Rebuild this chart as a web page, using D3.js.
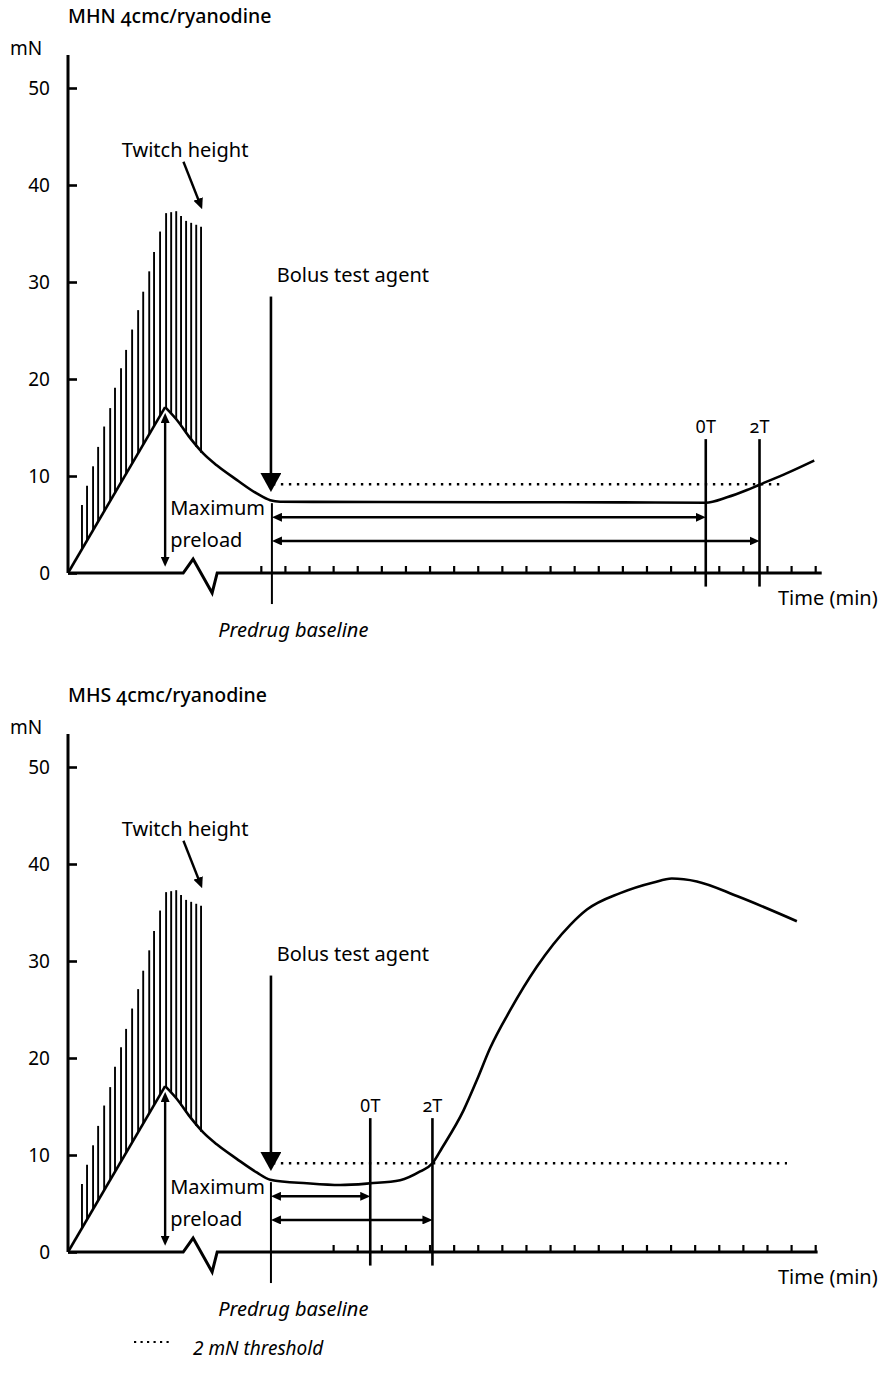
<!DOCTYPE html>
<html><head><meta charset="utf-8">
<script src="https://cdn.jsdelivr.net/npm/d3@7"></script>
<style>
html,body{margin:0;padding:0;background:#fff;}
svg{display:block;}
text{font-family:"Noto Sans","Open Sans",sans-serif;fill:#000;}
.onum{font-variant-numeric:oldstyle-nums;font-feature-settings:"onum" 1;}
</style></head><body>
<svg id="chart" width="884" height="1383"></svg>
<script>
// ---------- data ----------
const yTicks = [0, 10, 20, 30, 40, 50];
const xTicksMHN = [0,1,2,3,4,5,6,7,8,9,10,11,12,13,14,15,16,17,18,19,20,21,22,23];
const xTicksMHS = [3,4,5,6,7,8,9,10,11,12,13,14,15,16,17,18,19,20,21,22,23];

// twitches (time in min, relative to first tick)
const twitchTimes = [-7.42,-7.21,-6.96,-6.75,-6.50,-6.25,-6.05,-5.80,-5.59,-5.34,-5.09,-4.88,-4.63,-4.43,-4.18,-3.93,-3.72,-3.51,-3.31,-3.10,-2.89,-2.68,-2.48];
const twitchTops  = [7,9,11,13,15.1,17,19.1,21.1,23,25.1,27.1,29,31.1,33.1,35.2,37.1,37.2,37.3,36.8,36.3,36.1,35.9,35.7];
const twitchBases = [2.47,3.35,4.41,5.29,6.35,7.40,8.29,9.34,10.23,11.28,12.34,13.22,14.28,15.16,16.22,17.0,16.4,15.8,15.1,14.4,13.7,13.0,12.4];

// preload ramp
const rampTimes  = [-8, -3.97];
const rampValues = [0, 17.1];

// contracture traces (from preload peak onward)
const mhnTimes  = [-3.97,-3.49,-2.93,-2.38,-1.83,-1.0,-0.17,0.39,0.8,5,10,15,18.46,19.34,20.17,20.69,21.83,22.96];
const mhnValues = [17.1,15.8,13.9,12.3,11.1,9.6,8.2,7.5,7.35,7.32,7.3,7.28,7.25,7.8,8.55,9.1,10.3,11.6];
const mhsTimes  = [-3.97,-3.49,-2.93,-2.38,-1.83,-1.0,-0.17,0.39,1.91,3.29,4.54,5.78,6.61,7.12,7.51,8.41,8.96,9.51,10.34,11.45,12.83,13.53,14.91,16.29,17.05,18.09,19.75,22.24];
const mhsValues = [17.1,15.8,13.9,12.3,11.1,9.6,8.2,7.45,7.08,6.9,7.08,7.4,8.3,9.15,10.7,14.6,17.7,21.0,24.9,29.4,33.7,35.3,37.0,38.1,38.5,38.2,36.7,34.1];

// events: [predrug baseline, 0T, 2T]
const eventsMHN = [0.46, 18.46, 20.69];
const eventsMHS = [0.42, 4.54, 7.12];
const bolusTime = 0.42;
const threshold = 9.15;

// axis break (time, mN)
const breakTimes  = [-3.22, -2.81, -2.02, -1.81];
const breakValues = [0, 1.44, -2.06, 0];

// ---------- scales ----------
const svg = d3.select("#chart");
const x = d3.scaleLinear().domain([-8, 23.27]).range([68, 821.7]);
const y = d3.scaleLinear().domain([0, 50]).range([573, 88]);

const defs = svg.append("defs");
function marker(id, len, wid, refX) {
  defs.append("marker").attr("id", id)
    .attr("viewBox", `0 0 ${len} ${wid}`)
    .attr("refX", refX).attr("refY", wid/2)
    .attr("markerWidth", len).attr("markerHeight", wid)
    .attr("markerUnits", "userSpaceOnUse")
    .attr("orient", "auto-start-reverse")
    .append("path").attr("d", `M0,0L${len},${wid/2}L0,${wid}Z`).attr("fill", "#000");
}
marker("ah", 10, 9, 4);
marker("ahT", 11, 10, 4);
marker("big", 19, 21, 4);

const panels = [
  {offset: 0,   name: "MHN", times: mhnTimes, values: mhnValues, events: eventsMHN, ticks: xTicksMHN, end: 23.27, thrEnd: 21.71},
  {offset: 679, name: "MHS", times: mhsTimes, values: mhsValues, events: eventsMHS, ticks: xTicksMHS, end: 23.1,  thrEnd: 21.83}
];

const lineLin = d3.line().x(d => x(d[0])).y(d => y(d[1]));
const lineSmooth = d3.line().x(d => x(d[0])).y(d => y(d[1])).curve(d3.curveMonotoneX);

function arrowLine(g, x1, y1, x2, y2, mk, both, w) {
  const dx = x2 - x1, dy = y2 - y1, L = Math.hypot(dx, dy);
  const s = 6 / L;
  const ln = g.append("line")
    .attr("x1", both ? x1 + dx*s : x1).attr("y1", both ? y1 + dy*s : y1)
    .attr("x2", x2 - dx*s).attr("y2", y2 - dy*s)
    .attr("stroke", "#000").attr("stroke-width", w || 2.4)
    .attr("marker-end", `url(#${mk})`);
  if (both) ln.attr("marker-start", `url(#${mk})`);
}

panels.forEach(p => {
  const g = svg.append("g").attr("transform", `translate(0,${p.offset})`);

  // title
  g.append("text").attr("x", 68).attr("y", 23)
    .attr("font-size", 19.5).attr("font-weight", 500)
    .text(p.name + " ")
    .append("tspan").attr("class", "onum").text("4cmc/ryanodine");

  // mN label
  g.append("text").attr("x", 10).attr("y", 55).attr("font-size", 19).text("mN");

  // y axis line
  g.append("line").attr("x1", x(-8)).attr("x2", x(-8))
    .attr("y1", y(0)).attr("y2", y(53.4))
    .attr("stroke", "#000").attr("stroke-width", 3);
  const yT = g.append("g").attr("transform", `translate(${x(-8)},0)`)
    .call(d3.axisRight(y).tickValues(yTicks).tickSize(9).tickFormat(""));
  yT.select(".domain").remove();
  yT.selectAll("line").attr("stroke-width", 2.6);
  yT.selectAll("text").remove();
  const yL = g.append("g").attr("transform", `translate(${x(-8)},0)`)
    .call(d3.axisLeft(y).tickValues(yTicks).tickSize(0).tickPadding(18));
  yL.select(".domain").remove();
  yL.selectAll("text").attr("font-size", 19)
    .attr("font-family", '"Noto Sans","Open Sans",sans-serif').attr("dy", "0.36em");

  // x axis line with break
  const axisPts = [[-8, 0]].concat(breakTimes.map((t, i) => [t, breakValues[i]])).concat([[p.end, 0]]);
  g.append("path").attr("d", lineLin(axisPts)).attr("fill", "none")
    .attr("stroke", "#000").attr("stroke-width", 3).attr("stroke-linejoin", "miter");
  const xT = g.append("g").attr("transform", `translate(0,${y(0)})`)
    .call(d3.axisTop(x).tickValues(p.ticks).tickSize(7).tickFormat(""));
  xT.select(".domain").remove();
  xT.selectAll("line").attr("stroke-width", 2.2);
  xT.selectAll("text").remove();

  // twitches
  g.append("g").selectAll("line").data(twitchTimes).join("line")
    .attr("x1", d => x(d)).attr("x2", d => x(d))
    .attr("y1", (d, i) => y(twitchBases[i])).attr("y2", (d, i) => y(twitchTops[i]))
    .attr("stroke", "#000").attr("stroke-width", 1.9);

  // preload ramp + trace
  g.append("path").attr("d", lineLin(rampTimes.map((t, i) => [t, rampValues[i]])))
    .attr("fill", "none").attr("stroke", "#000").attr("stroke-width", 2.6);
  g.append("path").attr("d", lineSmooth(p.times.map((t, i) => [t, p.values[i]])))
    .attr("fill", "none").attr("stroke", "#000").attr("stroke-width", 2.6);

  // threshold dotted line
  g.append("line").attr("x1", x(0.5)).attr("x2", x(p.thrEnd))
    .attr("y1", y(threshold)).attr("y2", y(threshold))
    .attr("stroke", "#000").attr("stroke-width", 2.4).attr("stroke-dasharray", "2.4,5.6");

  // predrug baseline line
  g.append("line").attr("x1", x(p.events[0])).attr("x2", x(p.events[0]))
    .attr("y1", y(7.2)).attr("y2", y(-3.2))
    .attr("stroke", "#000").attr("stroke-width", 2);
  [["0T", p.events[1]], ["2T", p.events[2]]].forEach(([lab, t]) => {
    g.append("line").attr("x1", x(t)).attr("x2", x(t))
      .attr("y1", y(13.8)).attr("y2", y(-1.4))
      .attr("stroke", "#000").attr("stroke-width", 2.6);
    g.append("text").attr("x", x(t)).attr("y", y(14.4)).attr("text-anchor", "middle")
      .attr("font-size", 18).attr("class", lab === "2T" ? "onum" : null).text(lab);
  });

  // interval arrows
  arrowLine(g, x(p.events[0]), y(5.74), x(p.events[1]), y(5.74), "ah", true);
  arrowLine(g, x(p.events[0]), y(3.3), x(p.events[2]), y(3.3), "ah", true);

  // bolus arrow
  arrowLine(g, x(bolusTime), y(28.5), x(bolusTime), y(10.2) + 9, "big", false, 2.6);
  g.append("text").attr("x", x(0.66)).attr("y", y(30.0)).attr("font-size", 20).text("Bolus test agent");

  // twitch height
  arrowLine(g, x(-3.21), y(42.4), x(-2.45), y(37.6), "ahT", false, 2.4);
  g.append("text").attr("x", x(-5.77)).attr("y", y(42.9)).attr("font-size", 20).text("Twitch height");

  // maximum preload
  arrowLine(g, x(-3.97), y(16.5), x(-3.97), y(0.65), "ah", true, 2.4);
  g.append("text").attr("x", x(-3.76)).attr("y", y(6.0)).attr("font-size", 20).text("Maximum");
  g.append("text").attr("x", x(-3.76)).attr("y", y(2.7)).attr("font-size", 20).text("preload");

  // predrug baseline label
  g.append("text").attr("x", x(-1.77)).attr("y", y(-6.55)).attr("font-size", 20)
    .attr("font-style", "italic").text("Predrug baseline");

  // time label
  g.append("text").attr("x", 778).attr("y", y(-3.3)).attr("font-size", 20).text("Time (min)");
});

// legend
const lg = svg.append("g");
lg.append("line").attr("x1", 134).attr("x2", 173).attr("y1", 1342).attr("y2", 1342)
  .attr("stroke", "#000").attr("stroke-width", 2.2).attr("stroke-dasharray", "2.2,4.3");
lg.append("text").attr("x", 193).attr("y", 1355).attr("font-size", 19)
  .attr("font-style", "italic").text("2 mN threshold");
</script>
</body></html>
